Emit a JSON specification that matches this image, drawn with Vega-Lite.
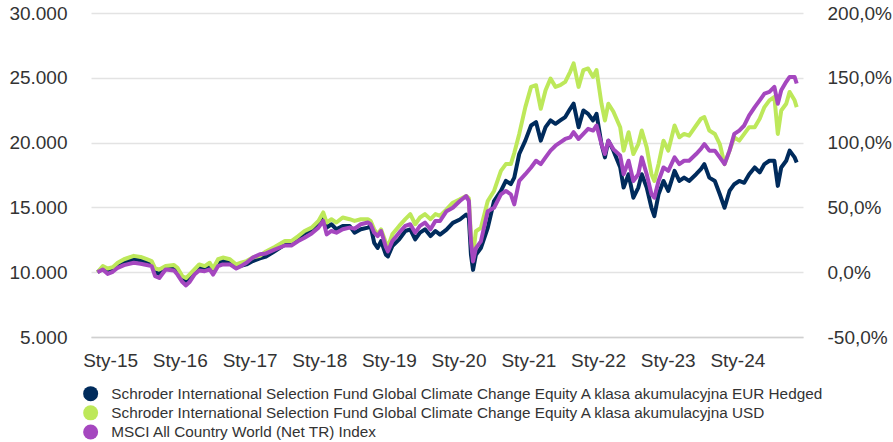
{
  "$schema": "https://vega.github.io/schema/vega-lite/v6.json",
  "width": 712,
  "height": 324,
  "autosize": "none",
  "padding": {"left": 91, "top": 13, "right": 90, "bottom": 105},
  "config": {
    "locale": {"number": {"decimal": ",", "thousands": ".", "grouping": [3], "currency": ["", ""], "minus": "-"}},
    "view": {"stroke": null},
    "font": "Liberation Sans"
  },
  "layer": [
    {
      "data": {"values": [
        {"d":"2014-10-27","a":10000,"b":10000,"c":10000},
        {"d":"2014-11-24","a":10330,"b":10470,"c":10210},
        {"d":"2014-12-19","a":10080,"b":10290,"c":9870},
        {"d":"2015-01-15","a":10200,"b":10390,"c":10030},
        {"d":"2015-02-10","a":10530,"b":10730,"c":10340},
        {"d":"2015-03-15","a":10770,"b":11000,"c":10550},
        {"d":"2015-05-05","a":11000,"b":11260,"c":10730},
        {"d":"2015-06-10","a":10920,"b":11180,"c":10650},
        {"d":"2015-07-12","a":10780,"b":11000,"c":10550},
        {"d":"2015-08-07","a":10660,"b":10860,"c":10470},
        {"d":"2015-08-25","a":9990,"b":10290,"c":9690},
        {"d":"2015-09-16","a":9880,"b":10210,"c":9550},
        {"d":"2015-10-19","a":10340,"b":10470,"c":10210},
        {"d":"2015-12-02","a":10340,"b":10550,"c":10130},
        {"d":"2015-12-20","a":10080,"b":10340,"c":9820},
        {"d":"2016-01-15","a":9460,"b":9690,"c":9240},
        {"d":"2016-02-03","a":9260,"b":9550,"c":8980},
        {"d":"2016-02-21","a":9530,"b":9820,"c":9240},
        {"d":"2016-03-18","a":10010,"b":10210,"c":9820},
        {"d":"2016-04-12","a":10360,"b":10600,"c":10130},
        {"d":"2016-05-11","a":10270,"b":10470,"c":10080},
        {"d":"2016-06-06","a":10470,"b":10730,"c":10210},
        {"d":"2016-06-24","a":10050,"b":10290,"c":9820},
        {"d":"2016-07-20","a":10730,"b":11000,"c":10470},
        {"d":"2016-08-14","a":10860,"b":11130,"c":10600},
        {"d":"2016-09-20","a":10800,"b":11000,"c":10600},
        {"d":"2016-10-23","a":10400,"b":10600,"c":10290},
        {"d":"2016-11-17","a":10500,"b":10730,"c":10470},
        {"d":"2016-12-16","a":10600,"b":10860,"c":10730},
        {"d":"2017-01-18","a":10860,"b":11130,"c":11130},
        {"d":"2017-02-24","a":11070,"b":11260,"c":11390},
        {"d":"2017-03-28","a":11200,"b":11600,"c":11450},
        {"d":"2017-05-12","a":11615,"b":11950,"c":11745},
        {"d":"2017-07-05","a":12135,"b":12400,"c":12060},
        {"d":"2017-08-08","a":12210,"b":12400,"c":12060},
        {"d":"2017-09-13","a":12580,"b":12790,"c":12400},
        {"d":"2017-10-16","a":13000,"b":13180,"c":12660},
        {"d":"2017-11-22","a":13250,"b":13440,"c":12990},
        {"d":"2017-12-28","a":13700,"b":13960,"c":13440},
        {"d":"2018-01-22","a":14220,"b":14610,"c":13960},
        {"d":"2018-02-09","a":13440,"b":13830,"c":12920},
        {"d":"2018-03-06","a":13700,"b":14090,"c":13180},
        {"d":"2018-04-01","a":13310,"b":13830,"c":13050},
        {"d":"2018-05-04","a":13570,"b":14220,"c":13310},
        {"d":"2018-06-09","a":13570,"b":14090,"c":13440},
        {"d":"2018-07-05","a":13050,"b":13960,"c":13360},
        {"d":"2018-08-07","a":13310,"b":14090,"c":13700},
        {"d":"2018-09-13","a":13440,"b":14090,"c":13830},
        {"d":"2018-09-27","a":13570,"b":13960,"c":13700},
        {"d":"2018-10-16","a":12270,"b":13310,"c":13050},
        {"d":"2018-11-03","a":11870,"b":12920,"c":12790},
        {"d":"2018-11-21","a":12400,"b":13310,"c":13180},
        {"d":"2018-12-16","a":11350,"b":12270,"c":11950},
        {"d":"2018-12-27","a":11220,"b":11950,"c":11610},
        {"d":"2019-01-19","a":12010,"b":12920,"c":12400},
        {"d":"2019-02-24","a":12530,"b":13570,"c":13050},
        {"d":"2019-03-28","a":13180,"b":14090,"c":13570},
        {"d":"2019-04-23","a":13310,"b":14480,"c":13700},
        {"d":"2019-05-19","a":12530,"b":13700,"c":13050},
        {"d":"2019-06-13","a":13050,"b":14220,"c":13570},
        {"d":"2019-07-09","a":13310,"b":14480,"c":13830},
        {"d":"2019-08-07","a":12790,"b":14090,"c":13310},
        {"d":"2019-09-02","a":13180,"b":14480,"c":13960},
        {"d":"2019-09-26","a":12900,"b":14350,"c":13950},
        {"d":"2019-10-30","a":13290,"b":14840,"c":14710},
        {"d":"2019-12-02","a":13810,"b":15360,"c":14970},
        {"d":"2020-01-08","a":14070,"b":15620,"c":15490},
        {"d":"2020-02-10","a":14450,"b":15880,"c":15880},
        {"d":"2020-02-24","a":14200,"b":15700,"c":15490},
        {"d":"2020-03-06","a":11350,"b":12770,"c":12380},
        {"d":"2020-03-17","a":10180,"b":11350,"c":10830},
        {"d":"2020-04-01","a":11350,"b":13160,"c":11860},
        {"d":"2020-04-27","a":11860,"b":13420,"c":12380},
        {"d":"2020-06-02","a":13420,"b":15490,"c":14710},
        {"d":"2020-07-05","a":15490,"b":16270,"c":14970},
        {"d":"2020-08-10","a":16270,"b":17820,"c":16010},
        {"d":"2020-09-05","a":17050,"b":18340,"c":16270},
        {"d":"2020-10-01","a":16790,"b":18340,"c":16010},
        {"d":"2020-10-19","a":17300,"b":19200,"c":15230},
        {"d":"2020-11-14","a":19120,"b":20670,"c":17050},
        {"d":"2020-12-16","a":20150,"b":22740,"c":17560},
        {"d":"2021-01-15","a":21320,"b":24300,"c":18080},
        {"d":"2021-02-10","a":21580,"b":24430,"c":18600},
        {"d":"2021-03-07","a":20150,"b":22610,"c":18340},
        {"d":"2021-04-01","a":21190,"b":24040,"c":18860},
        {"d":"2021-04-27","a":21710,"b":24940,"c":19380},
        {"d":"2021-05-23","a":21450,"b":24300,"c":19760},
        {"d":"2021-06-17","a":21710,"b":24430,"c":20020},
        {"d":"2021-07-13","a":21970,"b":24690,"c":20280},
        {"d":"2021-08-08","a":22610,"b":25460,"c":20410},
        {"d":"2021-08-26","a":23000,"b":26110,"c":20800},
        {"d":"2021-09-21","a":21190,"b":24300,"c":20280},
        {"d":"2021-10-16","a":22480,"b":25590,"c":20670},
        {"d":"2021-11-10","a":22220,"b":25720,"c":21060},
        {"d":"2021-12-06","a":21710,"b":25070,"c":20930},
        {"d":"2021-12-24","a":22220,"b":25590,"c":21320},
        {"d":"2022-01-19","a":19890,"b":23000,"c":19890},
        {"d":"2022-02-06","a":18860,"b":21710,"c":19120},
        {"d":"2022-02-24","a":20150,"b":23000,"c":20150},
        {"d":"2022-03-22","a":19400,"b":22400,"c":19500},
        {"d":"2022-04-27","a":18100,"b":21190,"c":19000},
        {"d":"2022-05-15","a":16530,"b":19380,"c":17560},
        {"d":"2022-06-10","a":17560,"b":20800,"c":18600},
        {"d":"2022-07-05","a":15750,"b":19120,"c":17040},
        {"d":"2022-07-31","a":16530,"b":19890,"c":17560},
        {"d":"2022-08-18","a":17560,"b":20930,"c":18860},
        {"d":"2022-09-13","a":16530,"b":19630,"c":17560},
        {"d":"2022-10-08","a":14970,"b":17560,"c":16010},
        {"d":"2022-10-23","a":14330,"b":17040,"c":15750},
        {"d":"2022-11-14","a":16010,"b":18340,"c":17040},
        {"d":"2022-12-10","a":17040,"b":20150,"c":18080},
        {"d":"2023-01-04","a":16270,"b":19380,"c":17820},
        {"d":"2023-02-06","a":17820,"b":21320,"c":18860},
        {"d":"2023-03-03","a":17040,"b":20410,"c":18340},
        {"d":"2023-03-28","a":17300,"b":20670,"c":18600},
        {"d":"2023-04-23","a":17040,"b":20540,"c":18600},
        {"d":"2023-05-30","a":17560,"b":21320,"c":19120},
        {"d":"2023-06-24","a":17950,"b":21840,"c":19510},
        {"d":"2023-07-12","a":18340,"b":21970,"c":19890},
        {"d":"2023-08-07","a":17300,"b":20930,"c":19380},
        {"d":"2023-09-05","a":17040,"b":20670,"c":19380},
        {"d":"2023-10-01","a":16010,"b":19890,"c":18860},
        {"d":"2023-10-26","a":14970,"b":18340,"c":18340},
        {"d":"2023-11-21","a":16270,"b":19380,"c":19380},
        {"d":"2023-12-16","a":16790,"b":20410,"c":20670},
        {"d":"2024-01-11","a":17040,"b":20150,"c":20930},
        {"d":"2024-02-06","a":16900,"b":20670,"c":21320},
        {"d":"2024-03-03","a":17560,"b":21190,"c":22100},
        {"d":"2024-04-01","a":18080,"b":21190,"c":22740},
        {"d":"2024-04-27","a":17700,"b":21840,"c":23260},
        {"d":"2024-05-22","a":18340,"b":22740,"c":23780},
        {"d":"2024-06-17","a":18600,"b":23260,"c":23910},
        {"d":"2024-07-13","a":18600,"b":23520,"c":24300},
        {"d":"2024-07-31","a":16660,"b":20670,"c":23000},
        {"d":"2024-08-18","a":18080,"b":22480,"c":24040},
        {"d":"2024-09-13","a":18600,"b":23000,"c":24690},
        {"d":"2024-10-01","a":19380,"b":23910,"c":25070},
        {"d":"2024-10-27","a":18860,"b":23260,"c":25070},
        {"d":"2024-11-07","a":18470,"b":22740,"c":24560}
      ]},
      "transform": [{"fold": ["a", "b", "c"], "as": ["series", "value"]}],
      "mark": {"type": "line", "strokeWidth": 4, "strokeJoin": "round"},
      "encoding": {
        "x": {
          "field": "d", "type": "temporal",
          "scale": {"domain": ["2014-09-23", "2024-12-10"]},
          "axis": {
            "title": null,
            "values": [{"year":2015,"month":1,"date":1},{"year":2016,"month":1,"date":1},{"year":2017,"month":1,"date":1},{"year":2018,"month":1,"date":1},{"year":2019,"month":1,"date":1},{"year":2020,"month":1,"date":1},{"year":2021,"month":1,"date":1},{"year":2022,"month":1,"date":1},{"year":2023,"month":1,"date":1},{"year":2024,"month":1,"date":1}],
            "labelExpr": "'Sty-' + timeFormat(datum.value, '%y')",
            "grid": false, "ticks": false,
            "domain": true, "domainColor": "#d0d0d0", "domainWidth": 1.5,
            "labelFontSize": 19, "labelColor": "#333333", "labelPadding": 14,
            "labelFont": "Liberation Sans"
          }
        },
        "y": {
          "field": "value", "type": "quantitative",
          "scale": {"domain": [5000, 30000]},
          "axis": {
            "title": null,
            "values": [5000, 10000, 15000, 20000, 25000, 30000],
            "format": ",.0f",
            "grid": true, "gridColor": "#e3e3e3", "gridWidth": 1.5,
            "ticks": false, "domain": false,
            "labelFontSize": 19, "labelColor": "#333333", "labelPadding": 24,
            "labelFont": "Liberation Sans"
          }
        },
        "color": {
          "field": "series", "type": "nominal",
          "scale": {"domain": ["a", "b", "c"], "range": ["#002b5c", "#bde85a", "#a547bf"]},
          "legend": {
            "orient": "none", "legendX": -8, "legendY": 373,
            "direction": "vertical", "title": null,
            "symbolType": "circle", "symbolSize": 225, "symbolStrokeWidth": 0,
            "labelFontSize": 15.3, "labelColor": "#333333", "labelOffset": 13,
            "rowPadding": 3.2, "padding": 0, "labelFont": "Liberation Sans",
            "labelLimit": 800,
            "labelExpr": "datum.label == 'a' ? 'Schroder International Selection Fund Global Climate Change Equity A klasa akumulacyjna EUR Hedged' : datum.label == 'b' ? 'Schroder International Selection Fund Global Climate Change Equity A klasa akumulacyjna USD' : 'MSCI All Country World (Net TR) Index'",
            "encode": {"symbols": {"update": {"fill": {"scale": "color", "field": "value"}, "stroke": {"value": "transparent"}, "opacity": {"value": 1}}}}
          }
        }
      }
    },
    {
      "data": {"values": [{"p": -0.5}, {"p": 2.0}]},
      "mark": {"type": "rule", "opacity": 0},
      "encoding": {
        "y": {
          "field": "p", "type": "quantitative",
          "scale": {"domain": [-0.5, 2.0]},
          "axis": {
            "orient": "right", "title": null,
            "values": [-0.5, 0, 0.5, 1, 1.5, 2],
            "format": ".1%",
            "grid": false, "ticks": false, "domain": false,
            "labelFontSize": 19, "labelColor": "#333333", "labelPadding": 24,
            "labelFont": "Liberation Sans"
          }
        }
      }
    }
  ],
  "resolve": {"scale": {"y": "independent"}}
}
